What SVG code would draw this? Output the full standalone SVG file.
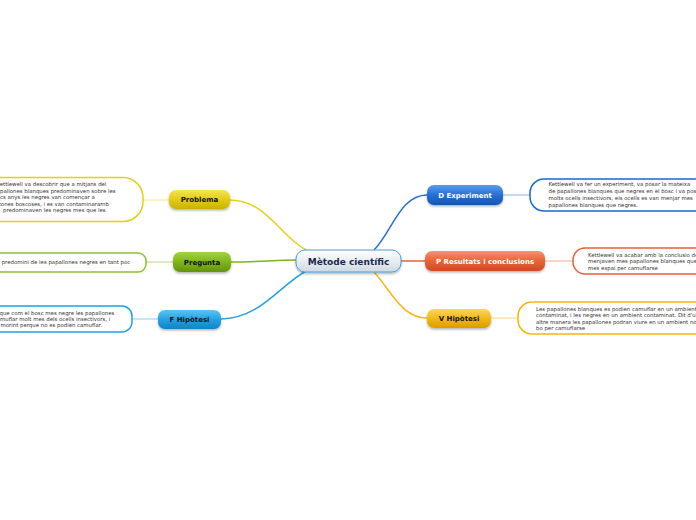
<svg xmlns="http://www.w3.org/2000/svg" width="696" height="520" viewBox="0 0 696 520">
<defs>
<linearGradient id="gY" x1="0" y1="0" x2="0" y2="1"><stop offset="0" stop-color="#f4e64e"/><stop offset="0.5" stop-color="#e2cc14"/><stop offset="1" stop-color="#c9b200"/></linearGradient>
<linearGradient id="gG" x1="0" y1="0" x2="0" y2="1"><stop offset="0" stop-color="#a2d43c"/><stop offset="0.5" stop-color="#7fb51c"/><stop offset="1" stop-color="#62950c"/></linearGradient>
<linearGradient id="gB" x1="0" y1="0" x2="0" y2="1"><stop offset="0" stop-color="#5cc4f4"/><stop offset="0.5" stop-color="#24a2e2"/><stop offset="1" stop-color="#0f84c6"/></linearGradient>
<linearGradient id="gD" x1="0" y1="0" x2="0" y2="1"><stop offset="0" stop-color="#5a9cec"/><stop offset="0.5" stop-color="#2770d2"/><stop offset="1" stop-color="#1554b4"/></linearGradient>
<linearGradient id="gO" x1="0" y1="0" x2="0" y2="1"><stop offset="0" stop-color="#f69270"/><stop offset="0.5" stop-color="#e8633a"/><stop offset="1" stop-color="#cf4a22"/></linearGradient>
<linearGradient id="gV" x1="0" y1="0" x2="0" y2="1"><stop offset="0" stop-color="#fbd660"/><stop offset="0.5" stop-color="#f2b818"/><stop offset="1" stop-color="#dc9c00"/></linearGradient>
<linearGradient id="gC" x1="0" y1="0" x2="0" y2="1"><stop offset="0" stop-color="#ffffff"/><stop offset="0.5" stop-color="#e8edf2"/><stop offset="1" stop-color="#cfd8e1"/></linearGradient>
<filter id="sh" x="-20%" y="-30%" width="140%" height="170%"><feDropShadow dx="0" dy="1.5" stdDeviation="1" flood-color="#000" flood-opacity="0.3"/></filter>
</defs>
<style>
.lbl{font-family:"DejaVu Sans",Verdana,sans-serif;font-weight:bold;font-size:7px;text-anchor:middle}
.ctr{font-family:"DejaVu Sans",Verdana,sans-serif;font-weight:bold;font-size:9px;text-anchor:middle;fill:#1a2a4a}
.note{font-family:"DejaVu Sans",Verdana,sans-serif;font-size:5.4px;fill:#333}
.box{fill:#fff;stroke-width:1.5}
.conn{fill:none;stroke-width:1.5}
.thin{fill:none;stroke-width:1}
</style>
<g id="connectors">
<path class="conn" stroke="#e6cf18" d="M229,200 C268,200 280,238 310,252"/>
<path class="conn" stroke="#7fb51c" d="M231,262 C260,262 275,260 297,260"/>
<path class="conn" stroke="#24a2e2" d="M221,319 C262,318 280,284 308,270"/>
<path class="conn" stroke="#2770d2" d="M374,250 C392,232 400,195 427,195"/>
<path class="conn" stroke="#e8633a" d="M401,261 L425,261"/>
<path class="conn" stroke="#f2b818" d="M374,272 C392,292 402,318 427,318"/>
<path class="thin" stroke="#f0e48a" d="M143,200 L169,200"/>
<path class="thin" stroke="#b6d880" d="M146,262 L173,262"/>
<path class="thin" stroke="#86cdf0" d="M132,319 L158,319"/>
<path class="thin" stroke="#8ab4ea" d="M503,195 L530,195"/>
<path class="thin" stroke="#f2a88e" d="M545,261 L573,261"/>
<path class="thin" stroke="#f8d87a" d="M491,318 L518,318"/>
</g>
<g id="center">
<rect x="296" y="250" width="105" height="22" rx="9" fill="url(#gC)" stroke="#4aa0d8" stroke-width="1" filter="url(#sh)"/>
<text class="ctr" x="348.5" y="264.5">Mètode científic</text>
</g>
<g id="problema">
<rect x="169" y="190" width="61" height="19" rx="7" fill="url(#gY)" filter="url(#sh)"/>
<text class="lbl" x="199.5" y="202" fill="#111">Problema</text>
</g>
<g id="problema-note">
<rect class="box" x="-30" y="177.5" width="173" height="44" rx="20" stroke="#e6cf10"/>
<text class="note"><tspan x="-3.5" y="186">Kettlewell va descobrir que a mitjans del</tspan><tspan x="-6.7" y="192.5">papallones blanques predominaven sobre les</tspan><tspan x="-6.7" y="199">pocs anys les negres van començar a</tspan><tspan x="-2" y="205.5">zones boscoses, i es van contaminaramb</tspan><tspan x="3" y="212">predominaven les negres mes que les</tspan></text>
</g>
<g id="pregunta">
<rect x="173" y="252" width="58" height="20" rx="7" fill="url(#gG)" filter="url(#sh)"/>
<text class="lbl" x="202" y="264.5" fill="#111">Pregunta</text>
</g>
<g id="pregunta-note">
<rect class="box" x="-30" y="253" width="176" height="19" rx="8" stroke="#8cc230"/>
<text class="note" x="1.7" y="264">predomini de les papallones negres en tant poc</text>
</g>
<g id="f-hipotesi">
<rect x="158" y="310" width="63" height="19" rx="7" fill="url(#gB)" filter="url(#sh)"/>
<text class="lbl" x="189.5" y="322" fill="#111">F Hipòtesi</text>
</g>
<g id="f-hipotesi-note">
<rect class="box" x="-30" y="306" width="162" height="26" rx="10" stroke="#22a0e4"/>
<text class="note"><tspan x="-0.5" y="315">que com el bosc mes negre les papallones</tspan><tspan x="-6.3" y="321">camuflar molt mes dels ocells insectivors, i</tspan><tspan x="0.5" y="327">morint perque no es podien camuflar.</tspan></text>
</g>
<g id="d-experiment">
<rect x="427" y="185" width="76" height="20" rx="7" fill="url(#gD)" filter="url(#sh)"/>
<text class="lbl" x="465" y="197.5" fill="#fff">D Experiment</text>
</g>
<g id="d-experiment-note">
<rect class="box" x="530" y="179" width="200" height="32" rx="14" stroke="#1f66c8"/>
<text class="note"><tspan x="548.5" y="186">Kettlewell va fer un experiment, va posar la mateixa</tspan><tspan x="548.5" y="192.5">de papallones blanques que negres en el bosc i va posar</tspan><tspan x="548.5" y="199.5">molts ocells insectivors, els ocells es van menjar mes</tspan><tspan x="548.5" y="206.5">papallones blanques que negres.</tspan></text>
</g>
<g id="p-resultats">
<rect x="425" y="251" width="120" height="20" rx="7" fill="url(#gO)" filter="url(#sh)"/>
<text class="lbl" x="485" y="263.5" fill="#fff">P Resultats i conclusions</text>
</g>
<g id="p-resultats-note">
<rect class="box" x="573" y="248" width="160" height="26" rx="12" stroke="#e8603a"/>
<text class="note"><tspan x="588" y="256.5">Kettlewell va acabar amb la conclusio de</tspan><tspan x="588" y="262.5">menjaven mes papallones blanques que</tspan><tspan x="588" y="269.5">mes espai per camuflarse</tspan></text>
</g>
<g id="v-hipotesi">
<rect x="427" y="309" width="64" height="19" rx="7" fill="url(#gV)" filter="url(#sh)"/>
<text class="lbl" x="459" y="321" fill="#111">V Hipòtesi</text>
</g>
<g id="v-hipotesi-note">
<rect class="box" x="518" y="302" width="200" height="32" rx="14" stroke="#f5b800"/>
<text class="note"><tspan x="536" y="311">Les papallones blanques es podien camuflar en un ambient</tspan><tspan x="536" y="317">contaminat, i les negres en un ambient contaminat. Dit d'una</tspan><tspan x="536" y="323.5">altre manera les papallones podran viure en un ambient no</tspan><tspan x="536" y="330">bo per camuflarse</tspan></text>
</g>
</svg>
